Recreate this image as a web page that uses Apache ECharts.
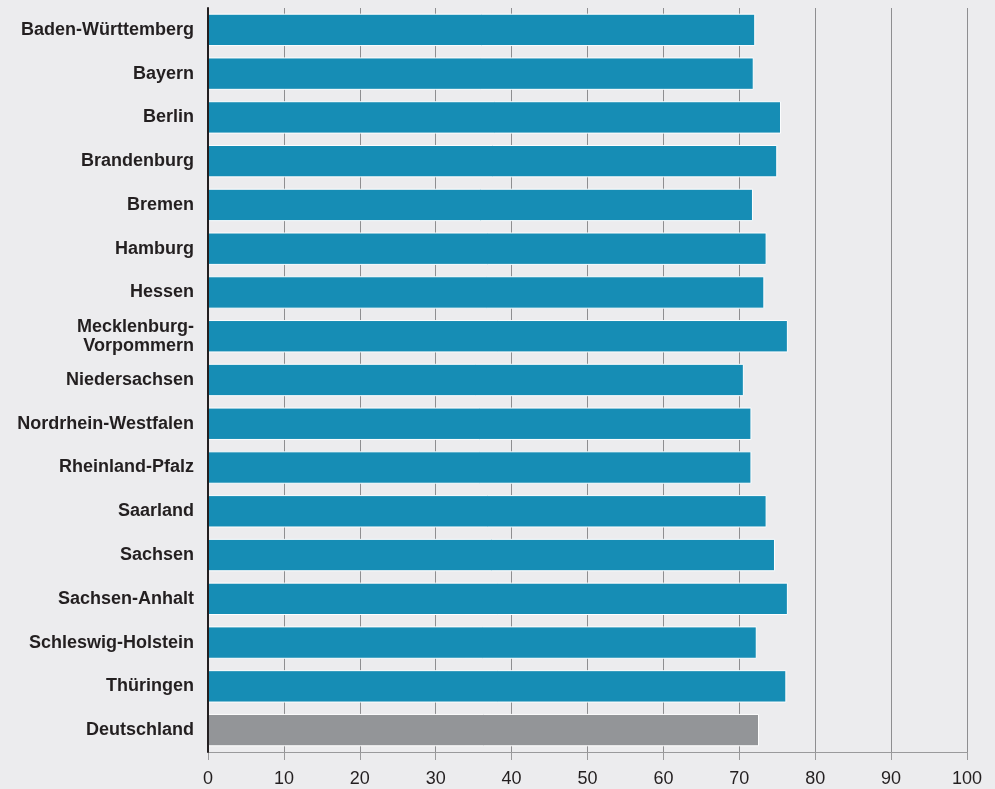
<!DOCTYPE html>
<html><head><meta charset="utf-8">
<script src="https://cdn.jsdelivr.net/npm/echarts@6/dist/echarts.min.js"></script>
<style>html,body{margin:0;padding:0;background:#ececee;}#c{width:995px;height:789px;}</style>
</head><body><div id="c"></div>
<script>
const categories = ["Baden-Württemberg","Bayern","Berlin","Brandenburg","Bremen","Hamburg","Hessen","Mecklenburg-\nVorpommern","Niedersachsen","Nordrhein-Westfalen","Rheinland-Pfalz","Saarland","Sachsen","Sachsen-Anhalt","Schleswig-Holstein","Thüringen","Deutschland"];
const values = [72.1,71.9,75.5,75.0,71.8,73.6,73.3,76.4,70.6,71.6,71.6,73.6,74.7,76.4,72.3,76.2,72.6];
const xTicks = [0,10,20,30,40,50,60,70,80,90,100];
const chart = echarts.init(document.getElementById('c'));
chart.setOption({
  backgroundColor:'#ececee',
  animation:false,
  grid:{left:208,right:28,top:8,bottom:37,containLabel:false},
  xAxis:{type:'value',min:0,max:100,interval:10,
    axisLine:{show:true,lineStyle:{color:'#9a9a9c',width:1}},
    axisTick:{show:true,length:8,lineStyle:{color:'#9a9a9c'}},
    axisLabel:{color:'#231f20',fontSize:18,fontFamily:'Liberation Sans, Arial, sans-serif',margin:18,
      formatter:v=>xTicks.includes(v)?String(v):''},
    splitLine:{show:true,lineStyle:{color:'#8e8e90',width:1}}},
  yAxis:{type:'category',data:categories,inverse:true,z:5,
    axisLine:{show:true,lineStyle:{color:'#231f20',width:2}},
    axisTick:{show:false},
    axisLabel:{color:'#231f20',fontSize:18,fontWeight:'bold',fontFamily:'Liberation Sans, Arial, sans-serif',margin:14,lineHeight:19,align:'right'}},
  series:[{type:'bar',barCategoryGap:'26%',
    data:values.map((v,i)=>({value:v,itemStyle:{color:categories[i]==='Deutschland'?'#939598':'#168db5'}})),
    itemStyle:{borderColor:'#ffffff',borderWidth:1}}]
});
</script></body></html>
